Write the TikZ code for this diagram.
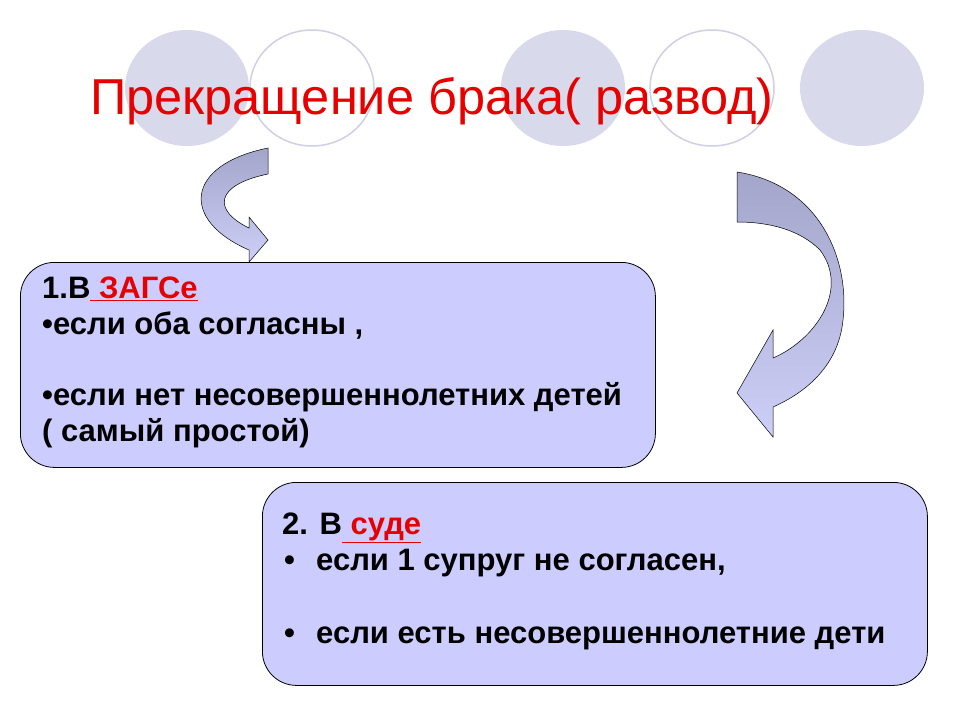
\documentclass[tikz,border=0pt]{standalone}
\usepackage{fontspec}
\setmainfont{Liberation Sans}
\usetikzlibrary{shadings}
\definecolor{boxfill}{HTML}{CCCCFF}
\definecolor{circfill}{HTML}{D9D9EC}
\definecolor{circline}{HTML}{D0D0E4}
\definecolor{arrdark}{HTML}{A3A5CA}
\definecolor{arrlight}{HTML}{CDCFF8}
\definecolor{titlered}{HTML}{E60000}
\tikzset{
  fcirc/.style={fill=circfill},
  ocirc/.style={draw=circline,line width=1.5pt,fill=white},
  boxst/.style={draw=black,line width=0.8pt,fill=boxfill,rounded corners=34pt},
  txt/.style={anchor=base west,inner sep=0pt,font=\bfseries\fontsize{31}{36}\selectfont},
  arr/.style={draw=black,line width=0.5pt,top color=arrdark,bottom color=arrlight}
}
\newcommand{\redu}[1]{\textcolor{titlered}{\underline{#1}}}
\begin{document}
\begin{tikzpicture}[x=1pt,y=-1pt]
\useasboundingbox (0,0) rectangle (960,720);
\fill[white] (0,0) rectangle (960,720);
% circles
\path[fcirc] (187,88) ellipse [x radius=62,y radius=58];
\path[ocirc] (312,88) ellipse [x radius=62,y radius=58];
\path[fcirc] (563,88) ellipse [x radius=62,y radius=58];
\path[ocirc] (712,88) ellipse [x radius=62,y radius=58];
\path[fcirc] (862,88) ellipse [x radius=62,y radius=58];
\node[anchor=base west,inner sep=0pt,text=titlered,font=\fontsize{50.5}{56}\selectfont] (title) at (90,114) {Прекращение брака( развод)};
% left curved arrow
\path[arr] (268,148) .. controls (185,165) and (180,220) .. (249,250)
  -- (249,262) -- (268,240) -- (249,217) -- (249,228)
  .. controls (212,210) and (215,185) .. (268,174) -- cycle;
% right curved arrow
\path[arr] (737,172) .. controls (820,185) and (850,260) .. (843,320)
  .. controls (838,370) and (800,395) .. (773,407) -- (773,437) -- (737,393) -- (773,330) -- (773,358)
  .. controls (815,340) and (850,290) .. (820,250)
  .. controls (800,230) and (770,222) .. (737,222) -- cycle;
% boxes
\node[boxst,minimum width=635pt,minimum height=205pt,anchor=north west] (b1) at (20,262) {};
\node[boxst,minimum width=665pt,minimum height=203pt,anchor=north west] (b2) at (262,482) {};
% box1 text
\node[txt] (t11) at (42,298) {1.В\redu{ ЗАГСе}};
\node[txt] (t12) at (42,334) {•если оба согласны ,};
\node[txt] (t13) at (42,405) {•если нет несовершеннолетних детей};
\node[txt] (t14) at (42,441) {( самый простой)};
% box2 text
\node[txt] (t21) at (282,534) {2. В\redu{ суде}};
\node[txt] (t22) at (284,570) {•};
\node[txt] (t23) at (316,570) {если 1 супруг не согласен,};
\node[txt] (t24) at (284,643) {•};
\node[txt] (t25) at (316,643) {если есть несовершеннолетние дети};
\end{tikzpicture}
\end{document}
